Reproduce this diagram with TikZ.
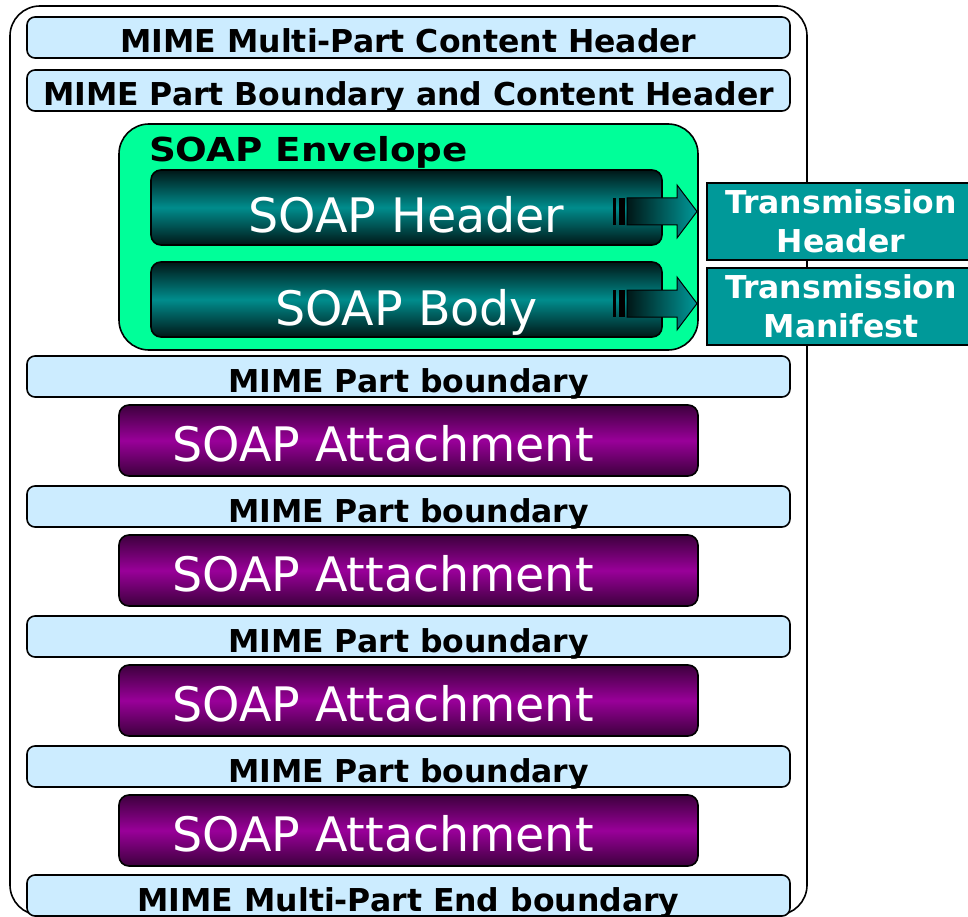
\documentclass[tikz,border=0pt]{standalone}
\usepackage{fontspec}
\setmainfont{DejaVu Sans}
\newfontfamily\envfont[FakeStretch=1.13]{DejaVu Sans}
\usepackage{xcolor}
\usepackage{tikz}
\usetikzlibrary{positioning,calc}

\definecolor{mimeblue}{HTML}{CCECFF}
\definecolor{envgreen}{HTML}{00FF99}
\definecolor{soapteal}{HTML}{009999}
\definecolor{attpurple}{HTML}{990099}

\begin{document}
\begin{tikzpicture}[x=1pt,y=-1pt,line width=1.6pt,every node/.append style={outer sep=0pt},
    frame/.style={draw,rounded corners=30pt,minimum width=797pt,minimum height=909pt},
    mimebar/.style={draw,fill=mimeblue,rounded corners=8pt,minimum width=763pt,inner sep=0pt,
        text height=36pt,text depth=5pt,font=\fontsize{31.5}{36}\selectfont\bfseries},
    envbox/.style={draw,fill=envgreen,rounded corners=30pt,minimum width=579pt,minimum height=226pt},
    envlabel/.style={inner sep=0pt,font=\envfont\fontsize{33}{38}\selectfont\bfseries},
    soapbox/.style={draw,rounded corners=10pt,minimum width=511pt,inner sep=0pt,text=white,
        text height=63pt,text depth=12pt,font=\fontsize{47.5}{54}\selectfont,
        top color=black!85!soapteal,bottom color=black!85!soapteal,middle color=soapteal!92!black},
    attbox/.style={draw,rounded corners=10pt,minimum width=579pt,inner sep=0pt,text=white,
        text height=56pt,text depth=15pt,font=\fontsize{47.5}{54}\selectfont,
        top color=attpurple!40!black,bottom color=attpurple!40!black,middle color=attpurple,
        execute at end node={\hspace*{51pt}}},
    transbox/.style={draw,fill=soapteal,text=white,align=center,minimum width=268pt,minimum height=77pt,
        inner sep=0pt,font=\fontsize{31.5}{39}\selectfont\bfseries},
    stripearrow/.style={draw,line width=1pt,left color=black!85!soapteal,right color=soapteal}]

    \useasboundingbox (0,0) rectangle (968,917);
    \clip (0,0) rectangle (968,917);

    \node[frame] (msg) at (408.5,460.5) {};

    % MIME parts, top to bottom
    \node[mimebar] (mainhdr) at (408.5,37.5) {MIME Multi-Part Content Header};
    \node[mimebar,below=12pt of mainhdr] (parthdr) {MIME Part Boundary and Content Header};
    \node[envbox,below=13pt of parthdr] (env) {};
    \node[envlabel,anchor=base west] (envtitle) at ([xshift=30pt,yshift=-38pt]env.north west) {SOAP Envelope};
    \node[soapbox,below right=46pt and 32pt of env.north west] (hdr) {SOAP Header};
    \node[soapbox,below=17pt of hdr] (body) {SOAP Body};

    \node[mimebar,below=6pt of env] (bnd1) {MIME Part boundary};
    \node[attbox,below=8pt of bnd1] (att1) {SOAP Attachment};
    \node[mimebar,below=10pt of att1] (bnd2) {MIME Part boundary};
    \node[attbox,below=8pt of bnd2] (att2) {SOAP Attachment};
    \node[mimebar,below=10pt of att2] (bnd3) {MIME Part boundary};
    \node[attbox,below=8pt of bnd3] (att3) {SOAP Attachment};
    \node[mimebar,below=10pt of att3] (bnd4) {MIME Part boundary};
    \node[attbox,below=8pt of bnd4] (att4) {SOAP Attachment};
    \node[mimebar,below=9pt of att4] (endbnd) {MIME Multi-Part End boundary};

    % striped arrows out of the envelope
    \foreach \src in {hdr,body} {
        \begin{scope}[shift={($(\src.east)+(0pt,-4pt)$)}]
            \path[stripearrow] (-35,-13.5) -- (15,-13.5) -- (15,-26.5) -- (35,0)
                -- (15,26.5) -- (15,13.5) -- (-35,13.5) -- cycle;
            \fill (-43,-13.5) rectangle (-37,13.5);
            \fill (-49,-13.5) rectangle (-46,13.5);
        \end{scope}
    }

    \node[transbox] (trhdr) at (841,221.5) {Transmission\\Header};
    \node[transbox,below=8pt of trhdr] (trman) {Transmission\\Manifest};
\end{tikzpicture}
\end{document}
